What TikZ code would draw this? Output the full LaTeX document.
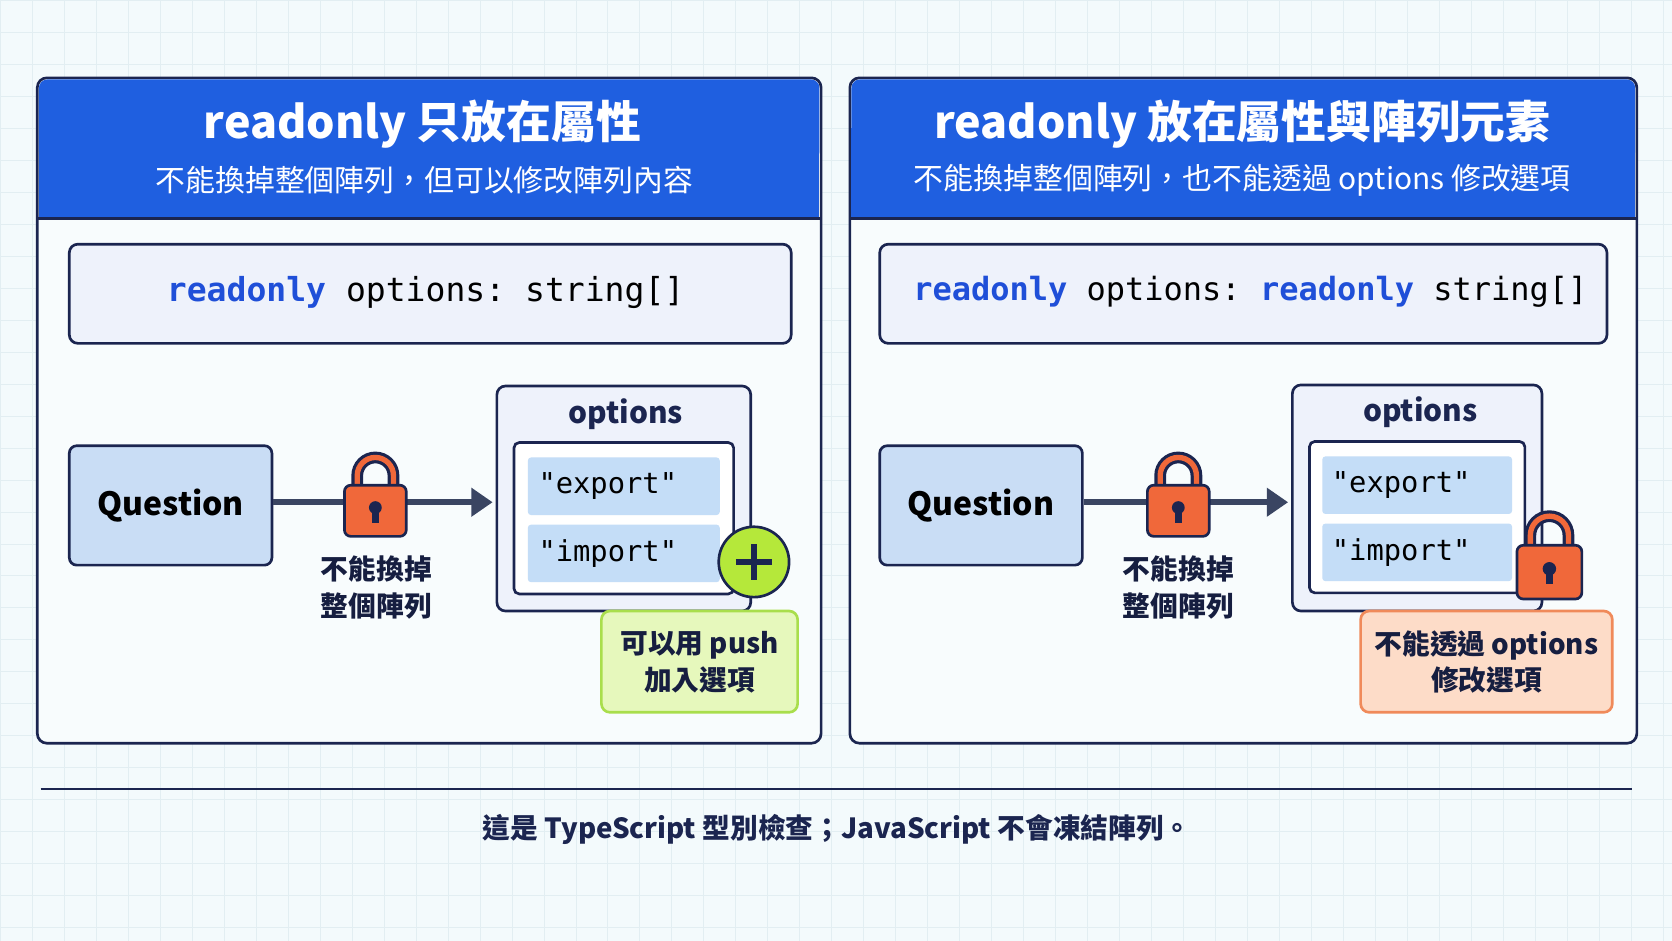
\documentclass[tikz,border=0pt]{standalone}
\usepackage{fontspec}
\setmainfont{Noto Sans CJK TC}
\setmonofont{DejaVu Sans Mono}
\usetikzlibrary{arrows.meta}
\definecolor{navy}{HTML}{1B2550}
\definecolor{headblue}{HTML}{1F5FE0}
\definecolor{kwblue}{HTML}{1F4FD8}
\definecolor{paper}{HTML}{F3FAFC}
\definecolor{gridc}{HTML}{E2EEF2}
\definecolor{boxfill}{HTML}{EEF2FB}
\definecolor{qfill}{HTML}{C9DDF5}
\definecolor{itemfill}{HTML}{C4DDF7}
\definecolor{lockor}{HTML}{F0683A}
\definecolor{greenfill}{HTML}{E6F8BC}
\definecolor{greenedge}{HTML}{A9DE4C}
\definecolor{plusgreen}{HTML}{B5E83A}
\definecolor{orfill}{HTML}{FDDCC8}
\definecolor{oredge}{HTML}{F08A5A}
\definecolor{arrowc}{HTML}{3A4562}
\newcommand{\kw}[1]{\textcolor{kwblue}{\textbf{#1}}}
\tikzset{
  panel/.style={draw=navy, line width=2.5pt, rounded corners=9pt, fill=paper!60!white},
  codebox/.style={draw=navy, line width=2.5pt, rounded corners=8pt, fill=boxfill},
  qbox/.style={draw=navy, line width=2.5pt, rounded corners=7pt, fill=qfill, font=\fontsize{30}{34}\selectfont\bfseries},
  item/.style={fill=itemfill, rounded corners=3pt, minimum width=180pt, minimum height=54pt, text width=160pt, align=left, font=\ttfamily\fontsize{27}{30}\selectfont},
  lbl/.style={align=center, font=\fontsize{26}{34}\selectfont\bfseries, text=navy!80!black},
  link/.style={line width=6pt, draw=arrowc, -{Triangle[length=20pt,width=26pt]}},
  lock/.pic={
    \draw[navy, line width=11pt] (-17,-10) -- (-17,-22) arc[start angle=180,end angle=360,radius=17] -- (17,-10);
    \draw[lockor, line width=5pt] (-17,-10) -- (-17,-22) arc[start angle=180,end angle=360,radius=17] -- (17,-10);
    \draw[navy, line width=2.5pt, fill=lockor, rounded corners=6pt] (-29,-13) rectangle (29,35);
    \fill[navy] (0,8) circle (6);
    \fill[navy] (-3,8) rectangle (3,22);
  }
}
\begin{document}
\begin{tikzpicture}[x=1pt, y=-1pt]
  \useasboundingbox (0,0) rectangle (1568,882);
  \fill[paper] (0,0) rectangle (1568,882);
  \foreach \gx in {0,30,...,1560} \draw[gridc, line width=0.6pt] (\gx,0) -- (\gx,882);
  \foreach \gy in {0,30,...,870} \draw[gridc, line width=0.6pt] (0,\gy) -- (1568,\gy);

  % left panel
  \draw[panel] (35,73) rectangle (770,697);
  \fill[headblue, rounded corners=8pt] (36.5,74.5) rectangle (768.5,150);
  \fill[headblue] (36.5,120) rectangle (768.5,205);
  \draw[navy, line width=2.5pt] (35,205) -- (770,205);
  \node[white, font=\fontsize{42}{50}\selectfont\bfseries] (ltitle) at (396,116) {readonly 只放在屬性};
  \node[white, font=\fontsize{28}{32}\selectfont] (lsub) at (398,169) {不能換掉整個陣列，但可以修改陣列內容};
  \draw[codebox] (65,229) rectangle (742,322);
  \node[font=\ttfamily\fontsize{31}{34}\selectfont, anchor=west] (lcode) at (153,274) {\kw{readonly} options: string[]};

  \node[qbox, minimum width=190pt, minimum height=112pt] (lq) at (160,474) {Question};
  \draw[codebox] (466,362) rectangle (704,573);
  \node[font=\fontsize{28}{32}\selectfont\bfseries, text=navy] (lopt) at (587,388) {options};
  \draw[navy, line width=2.5pt, rounded corners=5pt, fill=white] (482,415) rectangle (688,557);
  \node[item] (lexp) at (585,456) {"export"};
  \node[item] (limp) at (585,519) {"import"};
  \coordinate (lin) at (462,471);
  \draw[link] (lq.east |- lin) -- (lin);
  \pic at (352,468) {lock};
  \node[lbl] (lnote) at (353,551) {不能換掉\\整個陣列};
  \node[circle, draw=navy, line width=2.5pt, fill=plusgreen, minimum size=66pt] (plus) at (707,527) {};
  \draw[navy, line width=6pt] (plus.center) ++(-17,0) -- ++(34,0);
  \draw[navy, line width=6pt] (plus.center) ++(0,-17) -- ++(0,34);
  \draw[draw=greenedge, fill=greenfill, line width=2.5pt, rounded corners=8pt] (564,573) rectangle (748,668);
  \node[lbl] (lpush) at (656,621) {可以用 push\\加入選項};

  % right panel
  \draw[panel] (797,73) rectangle (1535,697);
  \fill[headblue, rounded corners=8pt] (798.5,74.5) rectangle (1533.5,150);
  \fill[headblue] (798.5,120) rectangle (1533.5,205);
  \draw[navy, line width=2.5pt] (797,205) -- (1535,205);
  \node[white, font=\fontsize{42}{50}\selectfont\bfseries] (rtitle) at (1165,116) {readonly 放在屬性與陣列元素};
  \node[white, font=\fontsize{28}{32}\selectfont] (rsub) at (1165,169) {不能換掉整個陣列，也不能透過 options 修改選項};
  \draw[codebox] (825,229) rectangle (1507,322);
  \node[font=\ttfamily\fontsize{30}{34}\selectfont, anchor=west] (rcode) at (853,274) {\kw{readonly} options: \kw{readonly} string[]};

  \node[qbox, minimum width=190pt, minimum height=112pt] (rq) at (920,474) {Question};
  \draw[codebox] (1212,361) rectangle (1446,573);
  \node[font=\fontsize{28}{32}\selectfont\bfseries, text=navy] (ropt) at (1332,387) {options};
  \draw[navy, line width=2.5pt, rounded corners=5pt, fill=white] (1228,414) rectangle (1430,556);
  \node[item, minimum width=178pt] (rexp) at (1329,455) {"export"};
  \node[item, minimum width=178pt] (rimp) at (1329,518) {"import"};
  \coordinate (rin) at (1208,471);
  \draw[link] (rq.east |- rin) -- (rin);
  \pic at (1105,468) {lock};
  \node[lbl] (rnote) at (1105,551) {不能換掉\\整個陣列};
  \pic[scale=1.05] at (1453,525) {lock};
  \draw[draw=oredge, fill=orfill, line width=2.5pt, rounded corners=8pt] (1276,573) rectangle (1512,668);
  \node[lbl] (rblock) at (1394,621) {不能透過 options\\修改選項};

  % footer
  \draw[navy, line width=2.5pt] (38,740) -- (1530,740);
  \node[font=\fontsize{26}{30}\selectfont\bfseries, text=navy] (foot) at (785,778) {這是 TypeScript 型別檢查；JavaScript 不會凍結陣列。};
\end{tikzpicture}
\end{document}
